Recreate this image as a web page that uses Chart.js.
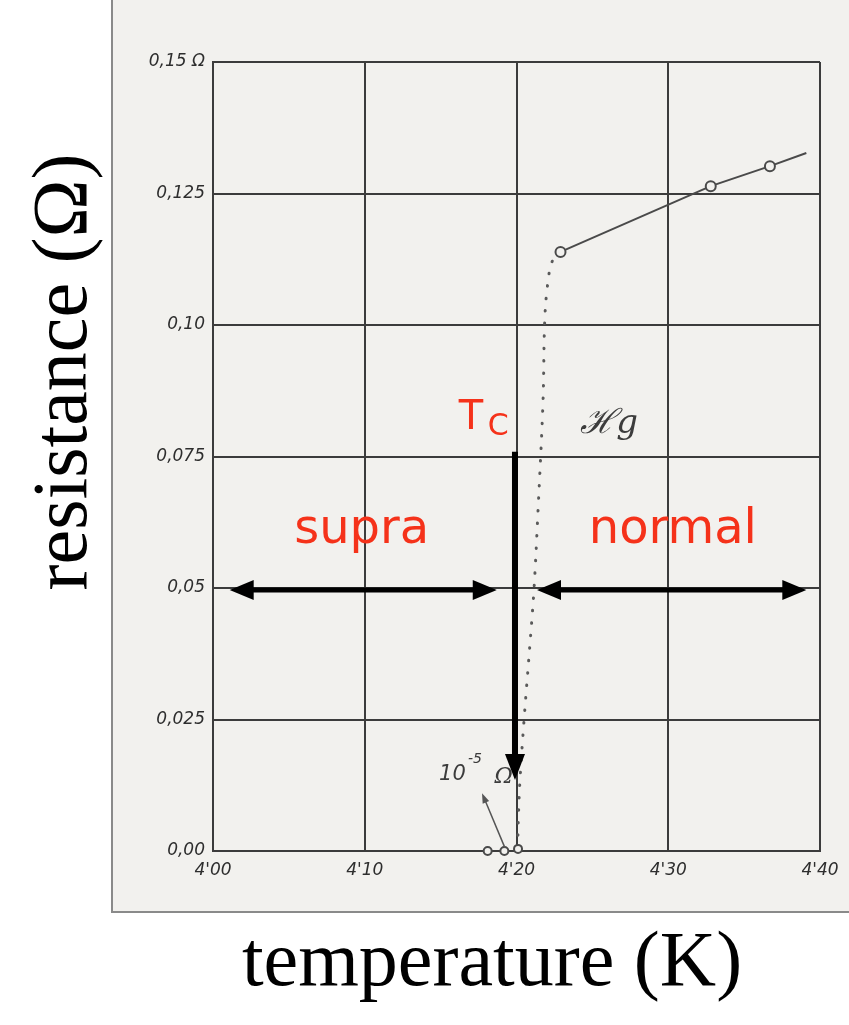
<!DOCTYPE html>
<html>
<head>
<meta charset="utf-8">
<script src="https://cdn.jsdelivr.net/npm/chart.js@4"></script>
<style>
  html, body { margin: 0; padding: 0; background: #fff; }
  canvas { display: block; }
</style>
</head>
<body>
<canvas id="hgChart" width="849" height="1025"></canvas>
<script>
// Onnes 1911 : résistance du mercure près de 4,2 K
const xTickLabels = ["4'00", "4'10", "4'20", "4'30", "4'40"];
const yTickLabels = ['0,00', '0,025', '0,05', '0,075', '0,10', '0,125', '0,15 Ω'];

// points mesurés (état normal)
const normalT = [4.229, 4.328, 4.367, 4.391];
const normalR = [0.1139, 0.1264, 0.1302, 0.1327];
const normalMarker = [true, true, true, false];

// transition en pointillés
const dropT = [4.229, 4.2234, 4.2201, 4.2185, 4.2175, 4.2142, 4.2115, 4.2085, 4.2050, 4.2023, 4.2012, 4.2008];
const dropR = [0.1139, 0.1120, 0.1067, 0.1000, 0.0857, 0.0648, 0.0496, 0.0380, 0.0250, 0.0135, 0.0060, 0.0010];

// points mesurés (supraconducteur)
const lowT = [4.181, 4.192, 4.201];
const lowR = [0.0, 0.0, 0.0004];

// annotations (en unités des axes)
const tcLine = { t: 4.199, r0: 0.0759, r1: 0.0135 };
const phaseArrows = [
  { t0: 4.011, t1: 4.187, r: 0.0496 },
  { t0: 4.2135, t1: 4.391, r: 0.0496 }
];
const smallArrow = { t0: 4.1924, r0: 0.0006, t1: 4.1773, r1: 0.011 };

const paper = '#f2f1ee';
const ink = '#3c3c3c';
const red = '#f5321a';

function toPoints(xs, ys) {
  return xs.map((x, i) => ({ x: x, y: ys[i] }));
}

function arrow(ctx, x1, y1, x2, y2, w, headLen, headW, both) {
  const a = Math.atan2(y2 - y1, x2 - x1);
  const head = (x, y, ang) => {
    ctx.beginPath();
    ctx.moveTo(x, y);
    ctx.lineTo(x - headLen * Math.cos(ang) + headW / 2 * Math.sin(ang), y - headLen * Math.sin(ang) - headW / 2 * Math.cos(ang));
    ctx.lineTo(x - headLen * Math.cos(ang) - headW / 2 * Math.sin(ang), y - headLen * Math.sin(ang) + headW / 2 * Math.cos(ang));
    ctx.closePath();
    ctx.fill();
  };
  ctx.lineWidth = w;
  ctx.beginPath();
  const sx = both ? x1 + (headLen - 2) * Math.cos(a) : x1;
  const sy = both ? y1 + (headLen - 2) * Math.sin(a) : y1;
  ctx.moveTo(sx, sy);
  ctx.lineTo(x2 - (headLen - 2) * Math.cos(a), y2 - (headLen - 2) * Math.sin(a));
  ctx.stroke();
  head(x2, y2, a);
  if (both) head(x1, y1, a + Math.PI);
}

const scanPlugin = {
  id: 'scan',
  beforeDraw(chart) {
    const ctx = chart.ctx;
    ctx.save();
    ctx.fillStyle = '#ffffff';
    ctx.fillRect(0, 0, chart.width, chart.height);
    ctx.fillStyle = paper;
    ctx.fillRect(112, 0, chart.width - 112, 912);
    ctx.strokeStyle = '#8a8a8a';
    ctx.lineWidth = 2;
    ctx.beginPath();
    ctx.moveTo(112, 0);
    ctx.lineTo(112, 912);
    ctx.lineTo(chart.width, 912);
    ctx.stroke();
    ctx.restore();
  },
  afterDraw(chart) {
    const ctx = chart.ctx;
    const x = chart.scales.x, y = chart.scales.y;
    ctx.save();

    // petite flèche 10^-5
    ctx.strokeStyle = '#555';
    ctx.fillStyle = '#555';
    arrow(ctx, x.getPixelForValue(smallArrow.t0), y.getPixelForValue(smallArrow.r0),
      x.getPixelForValue(smallArrow.t1), y.getPixelForValue(smallArrow.r1), 1.5, 10, 7, false);

    ctx.fillStyle = ink;
    ctx.font = 'italic 21px "DejaVu Sans"';
    ctx.textBaseline = 'alphabetic';
    ctx.textAlign = 'left';
    ctx.fillText('10', x.getPixelForValue(4.149), y.getPixelForValue(0.0135));
    ctx.font = 'italic 14px "DejaVu Sans"';
    ctx.fillText('-5', x.getPixelForValue(4.168), y.getPixelForValue(0.0168));
    ctx.font = 'italic 22px "DejaVu Serif"';
    ctx.fillText('Ω', x.getPixelForValue(4.1855), y.getPixelForValue(0.0130));

    // Hg
    ctx.font = 'italic 34px "DejaVu Serif"';
    ctx.fillText('ℋg', x.getPixelForValue(4.242), y.getPixelForValue(0.0795));

    // flèches noires
    ctx.strokeStyle = '#000';
    ctx.fillStyle = '#000';
    ctx.lineCap = 'butt';
    phaseArrows.forEach(p => {
      arrow(ctx, x.getPixelForValue(p.t0), y.getPixelForValue(p.r),
        x.getPixelForValue(p.t1), y.getPixelForValue(p.r), 5, 24, 20, true);
    });
    arrow(ctx, x.getPixelForValue(tcLine.t), y.getPixelForValue(tcLine.r0),
      x.getPixelForValue(tcLine.t), y.getPixelForValue(tcLine.r1), 6, 26, 20, false);

    // texte rouge
    ctx.fillStyle = red;
    ctx.textAlign = 'center';
    ctx.font = '48px "DejaVu Sans"';
    ctx.fillText('supra', x.getPixelForValue(4.098), y.getPixelForValue(0.0585));
    ctx.fillText('normal', x.getPixelForValue(4.303), y.getPixelForValue(0.0585));
    ctx.textAlign = 'left';
    ctx.font = '40px "DejaVu Sans"';
    ctx.fillText('T', x.getPixelForValue(4.162), y.getPixelForValue(0.0802));
    ctx.font = '30px "DejaVu Sans"';
    ctx.fillText('C', x.getPixelForValue(4.181), y.getPixelForValue(0.0790));

    // titres des axes
    ctx.fillStyle = '#000';
    ctx.font = '78px "Liberation Serif"';
    ctx.textAlign = 'center';
    ctx.fillText('temperature (K)', 492, 985);
    ctx.translate(86, 372);
    ctx.rotate(-Math.PI / 2);
    ctx.fillText('resistance (Ω)', 0, 0);
    ctx.restore();
  }
};

const ctx = document.getElementById('hgChart').getContext('2d');
const hgChart = new Chart(ctx, {
  type: 'scatter',
  data: {
    datasets: [
      {
        label: 'transition',
        data: toPoints(dropT, dropR),
        showLine: true,
        order: 5,
        borderColor: '#5a5a5a',
        borderWidth: 3,
        borderDash: [0.5, 12],
        borderCapStyle: 'round',
        tension: 0.35,
        pointRadius: 0
      },
      {
        label: 'normal',
        data: toPoints(normalT, normalR),
        showLine: true,
        order: 1,
        borderColor: '#4a4a4a',
        borderWidth: 2,
        pointRadius: normalMarker.map(m => m ? 5 : 0),
        pointBackgroundColor: paper,
        pointBorderColor: '#4a4a4a',
        pointBorderWidth: 2
      },
      {
        label: 'supra',
        data: toPoints(lowT, lowR),
        showLine: false,
        clip: false,
        order: 0,
        pointRadius: 4,
        pointBackgroundColor: paper,
        pointBorderColor: '#4a4a4a',
        pointBorderWidth: 2
      }
    ]
  },
  options: {
    responsive: false,
    animation: false,
    devicePixelRatio: 1,
    layout: { padding: { top: 62, right: 29, left: 0, bottom: 0 } },
    plugins: {
      legend: { display: false },
      tooltip: { enabled: false }
    },
    scales: {
      x: {
        type: 'linear',
        min: 4.0,
        max: 4.4,
        afterFit: s => { s.height = 174; },
        ticks: {
          stepSize: 0.1,
          padding: 9,
          color: '#2e2e2e',
          font: { family: 'DejaVu Sans', style: 'italic', size: 17 },
          callback: (v, i) => xTickLabels[i]
        },
        grid: { color: ink, lineWidth: 2, drawTicks: false },
        border: { color: ink, width: 2 }
      },
      y: {
        type: 'linear',
        min: 0,
        max: 0.15,
        afterFit: s => { s.width = 213; },
        ticks: {
          stepSize: 0.025,
          padding: 8,
          color: '#2e2e2e',
          font: { family: 'DejaVu Sans', style: 'italic', size: 17 },
          callback: (v, i) => yTickLabels[i]
        },
        grid: { color: ink, lineWidth: 2, drawTicks: false },
        border: { color: ink, width: 2 }
      }
    }
  },
  plugins: [scanPlugin]
});
</script>
</body>
</html>
